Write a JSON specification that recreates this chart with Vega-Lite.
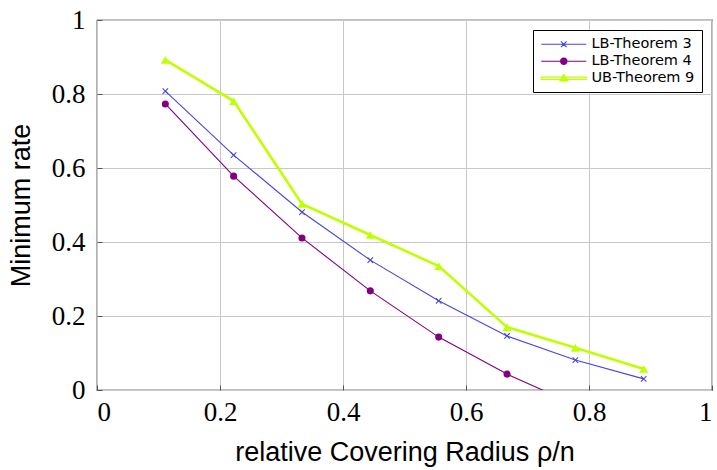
{
  "$schema": "https://vega.github.io/schema/vega-lite/v6.json",
  "width": 615,
  "height": 370,
  "autosize": {"type": "none"},
  "padding": {"left": 97, "top": 20, "right": 5, "bottom": 80},
  "background": "white",
  "config": {
    "view": {"stroke": "black", "strokeWidth": 1.2},
    "axis": {
      "grid": true,
      "gridColor": "#c8c8c8",
      "gridWidth": 1,
      "domain": false,
      "tickColor": "#555555",
      "tickSize": -5,
      "tickWidth": 1,
      "labelFont": "Liberation Serif",
      "labelFontSize": 27,
      "labelColor": "black",
      "titleFont": "Liberation Sans",
      "titleFontSize": 27,
      "titleFontWeight": "normal",
      "titleColor": "black"
    }
  },
  "data": {
    "values": [
      {"x": 0.1111, "y": 0.808, "series": "LB-Theorem 3"},
      {"x": 0.2222, "y": 0.635, "series": "LB-Theorem 3"},
      {"x": 0.3333, "y": 0.481, "series": "LB-Theorem 3"},
      {"x": 0.4444, "y": 0.351, "series": "LB-Theorem 3"},
      {"x": 0.5556, "y": 0.241, "series": "LB-Theorem 3"},
      {"x": 0.6667, "y": 0.146, "series": "LB-Theorem 3"},
      {"x": 0.7778, "y": 0.081, "series": "LB-Theorem 3"},
      {"x": 0.8889, "y": 0.030, "series": "LB-Theorem 3"},
      {"x": 0.1111, "y": 0.773, "series": "LB-Theorem 4"},
      {"x": 0.2222, "y": 0.578, "series": "LB-Theorem 4"},
      {"x": 0.3333, "y": 0.411, "series": "LB-Theorem 4"},
      {"x": 0.4444, "y": 0.268, "series": "LB-Theorem 4"},
      {"x": 0.5556, "y": 0.143, "series": "LB-Theorem 4"},
      {"x": 0.6667, "y": 0.043, "series": "LB-Theorem 4"},
      {"x": 0.7778, "y": -0.040, "series": "LB-Theorem 4"},
      {"x": 0.1111, "y": 0.892, "series": "UB-Theorem 9"},
      {"x": 0.2222, "y": 0.781, "series": "UB-Theorem 9"},
      {"x": 0.3333, "y": 0.503, "series": "UB-Theorem 9"},
      {"x": 0.4444, "y": 0.419, "series": "UB-Theorem 9"},
      {"x": 0.5556, "y": 0.335, "series": "UB-Theorem 9"},
      {"x": 0.6667, "y": 0.170, "series": "UB-Theorem 9"},
      {"x": 0.7778, "y": 0.114, "series": "UB-Theorem 9"},
      {"x": 0.8889, "y": 0.057, "series": "UB-Theorem 9"}
    ]
  },
  "layer": [
    {
      "transform": [{"filter": "datum.series === 'LB-Theorem 4'"}],
      "mark": {"type": "line", "clip": true, "strokeWidth": 1.1, "color": "#800080"},
      "encoding": {
        "x": {"field": "x", "type": "quantitative", "scale": {"domain": [0, 1], "nice": false},
          "axis": {"values": [0, 0.2, 0.4, 0.6, 0.8, 1], "format": "~g", "labelPadding": 14, "title": "relative Covering Radius ρ/n", "titlePadding": 14}},
        "y": {"field": "y", "type": "quantitative", "scale": {"domain": [0, 1], "nice": false},
          "axis": {"values": [0, 0.2, 0.4, 0.6, 0.8, 1], "format": "~g", "labelPadding": 17, "title": "Minimum rate", "titlePadding": 16}}
      }
    },
    {
      "transform": [{"filter": "datum.series === 'LB-Theorem 3'"}],
      "mark": {"type": "line", "clip": true, "strokeWidth": 1.1, "color": "#4646dc"},
      "encoding": {
        "x": {"field": "x", "type": "quantitative"},
        "y": {"field": "y", "type": "quantitative"}
      }
    },
    {
      "transform": [{"filter": "datum.series === 'UB-Theorem 9'"}],
      "mark": {"type": "line", "clip": true, "strokeWidth": 2.6, "color": "#bfff00"},
      "encoding": {
        "x": {"field": "x", "type": "quantitative"},
        "y": {"field": "y", "type": "quantitative"}
      }
    },
    {
      "transform": [{"filter": "datum.series === 'LB-Theorem 3'"}],
      "mark": {"type": "point", "clip": true, "shape": "M-1,-1L1,1M-1,1L1,-1", "size": 30, "strokeWidth": 1.1, "color": "#4646dc", "opacity": 1},
      "encoding": {
        "x": {"field": "x", "type": "quantitative"},
        "y": {"field": "y", "type": "quantitative"}
      }
    },
    {
      "transform": [{"filter": "datum.series === 'LB-Theorem 4'"}],
      "mark": {"type": "point", "clip": true, "shape": "circle", "filled": true, "size": 50, "color": "#800080", "opacity": 1},
      "encoding": {
        "x": {"field": "x", "type": "quantitative"},
        "y": {"field": "y", "type": "quantitative"}
      }
    },
    {
      "transform": [{"filter": "datum.series === 'UB-Theorem 9'"}],
      "mark": {"type": "point", "clip": true, "shape": "triangle-up", "filled": true, "size": 80, "color": "#bfff00", "opacity": 1},
      "encoding": {
        "x": {"field": "x", "type": "quantitative"},
        "y": {"field": "y", "type": "quantitative"}
      }
    },
    {
      "mark": {"type": "point", "clip": true, "filled": true, "opacity": 0},
      "encoding": {
        "x": {"field": "x", "type": "quantitative"},
        "y": {"field": "y", "type": "quantitative"},
        "fill": {"field": "series", "type": "nominal",
          "scale": {"domain": ["LB-Theorem 3", "LB-Theorem 4", "UB-Theorem 9"], "range": ["#4646dc", "#800080", "#bfff00"]},
          "legend": {
            "title": null,
            "orient": "none",
            "legendX": 436,
            "legendY": 10,
            "direction": "vertical",
            "strokeColor": "black",
            "fillColor": "white",
            "padding": 7,
            "cornerRadius": 0,
            "symbolSize": 144,
            "symbolStrokeWidth": 1.1,
            "symbolOpacity": 1,
            "labelFont": "DejaVu Sans",
            "labelFontSize": 14.5,
            "labelColor": "black",
            "labelOffset": 37,
            "rowPadding": 2
          }},
        "stroke": {"field": "series", "type": "nominal",
          "scale": {"domain": ["LB-Theorem 3", "LB-Theorem 4", "UB-Theorem 9"], "range": ["#4646dc", "#800080", "#bfff00"]}},
        "shape": {"field": "series", "type": "nominal",
          "scale": {"domain": ["LB-Theorem 3", "LB-Theorem 4", "UB-Theorem 9"],
            "range": [
              "M-1,0H6.5M2.28,-0.47L3.22,0.47M2.28,0.47L3.22,-0.47",
              "M-1,0H6.5M3.28,0A0.53,0.53 0 1,1 2.22,0A0.53,0.53 0 1,1 3.28,0ZM3.1,0A0.35,0.35 0 1,1 2.4,0A0.35,0.35 0 1,1 3.1,0ZM2.92,0A0.17,0.17 0 1,1 2.58,0A0.17,0.17 0 1,1 2.92,0Z",
              "M-1,-0.18H6.5V0.18H-1ZM2.75,-0.67L3.42,0.45L2.08,0.45ZM2.75,-0.3L3.1,0.3L2.4,0.3Z"
            ]}}
      }
    }
  ]
}
